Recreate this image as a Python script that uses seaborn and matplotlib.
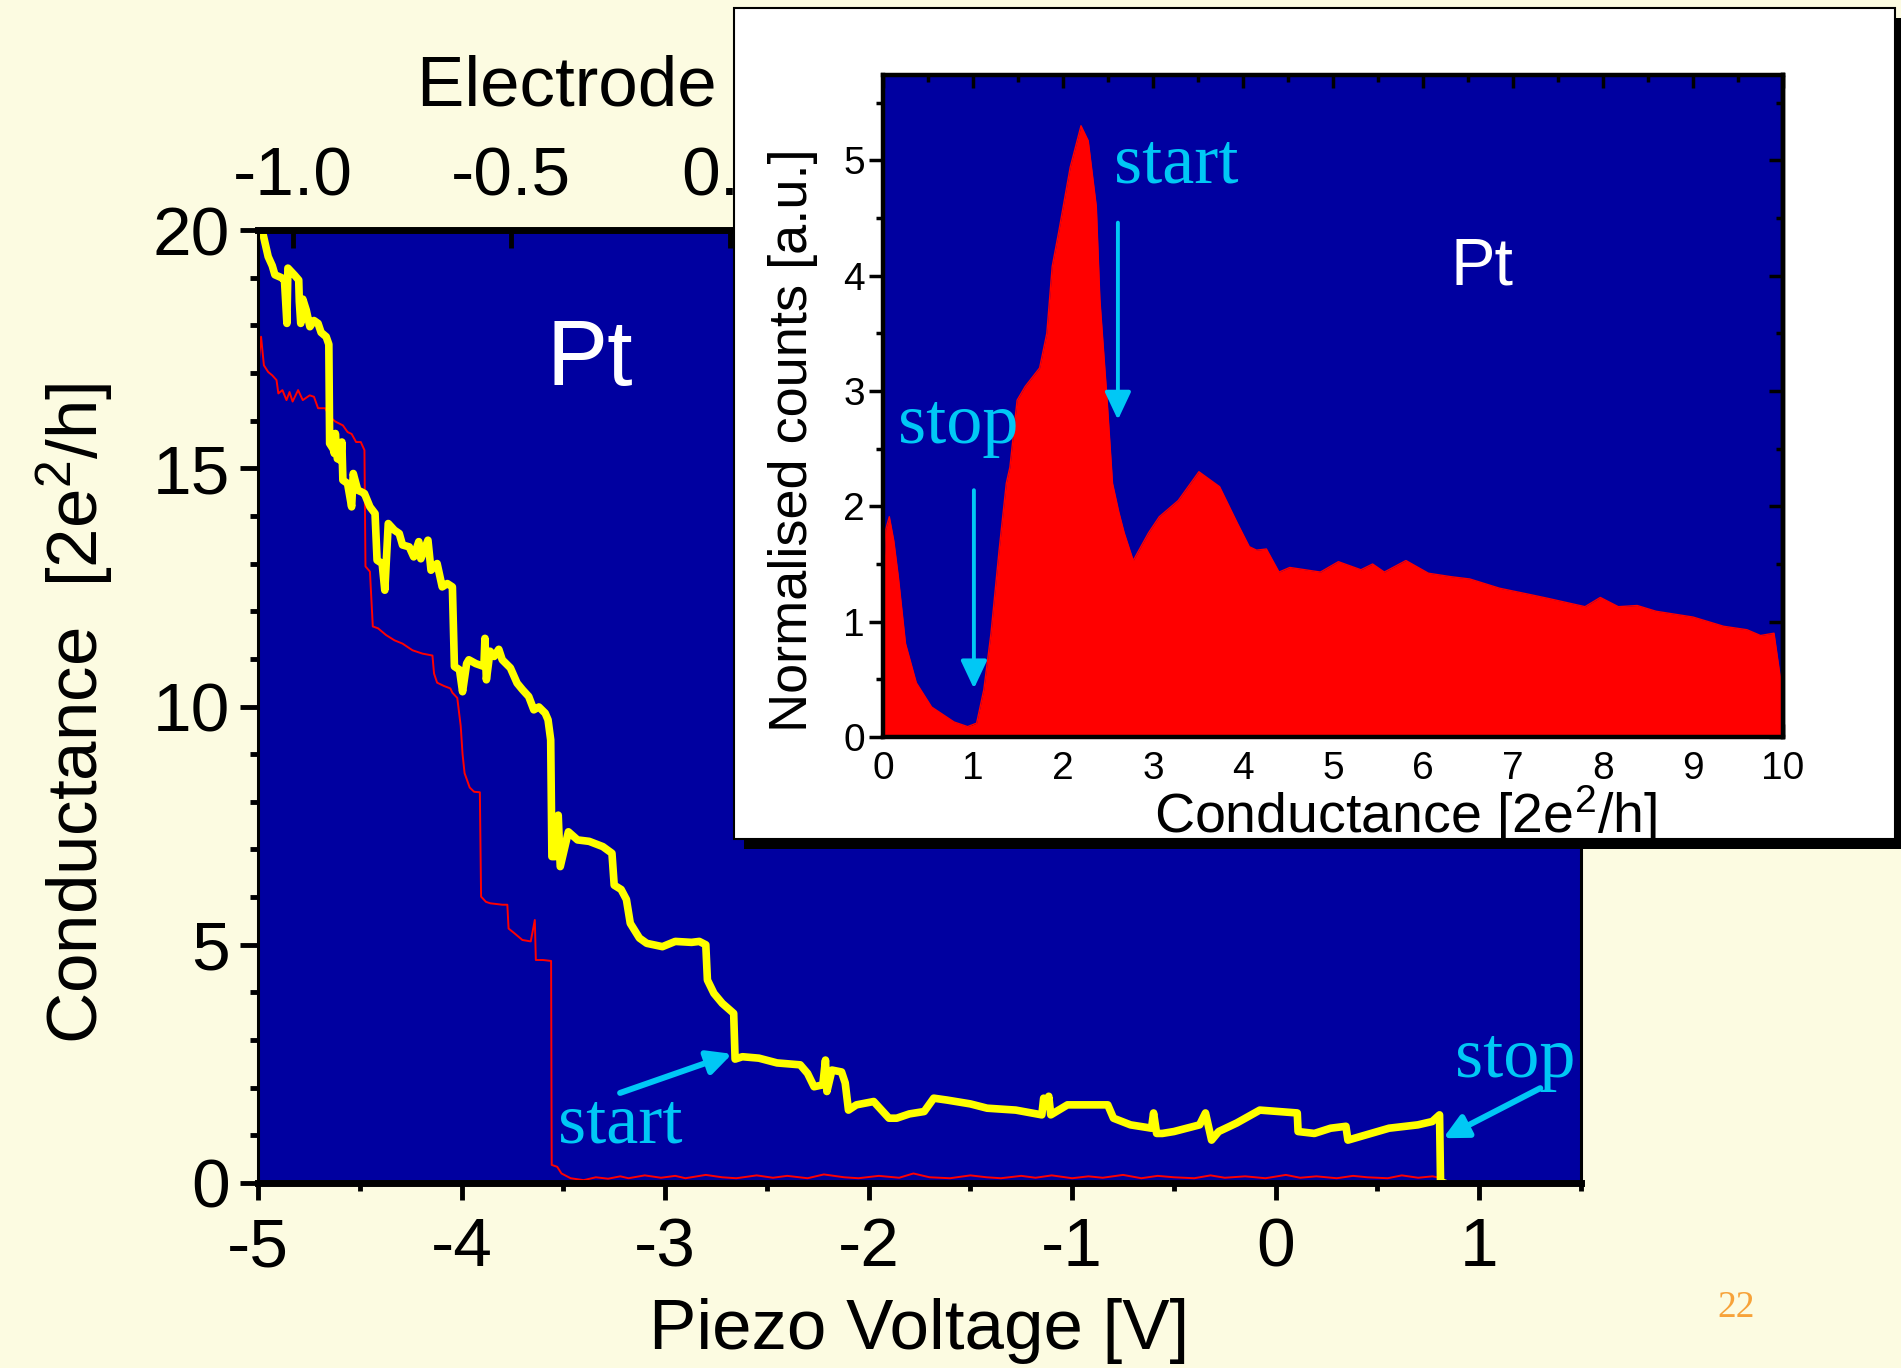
import matplotlib
matplotlib.use("Agg")
import matplotlib.pyplot as plt
from matplotlib.patches import Rectangle
from matplotlib.ticker import MultipleLocator, FormatStrFormatter
import seaborn as sns

sns.set_style("ticks")
plt.rcParams["font.family"] = ["Liberation Sans", "DejaVu Sans"]
plt.rcParams["mathtext.fontset"] = "custom"
plt.rcParams["mathtext.rm"] = "Liberation Sans"
plt.rcParams["mathtext.it"] = "Liberation Sans"
plt.rcParams["axes.unicode_minus"] = False
for key in ("text.color", "axes.labelcolor", "xtick.color", "ytick.color",
            "xtick.labelcolor", "ytick.labelcolor", "axes.edgecolor"):
    plt.rcParams[key] = "black"

BG = "#FCFBE1"
BLUE = "#0000A0"
YELLOW = "#FFFF00"
RED = "#FF0000"
CYAN = "#00C8F5"
ORANGE = "#F7A239"

# Breaking trace (thick, yellow): piezo voltage [V] vs conductance [2e^2/h]
yellow_v = [-4.98, -4.95, -4.93, -4.917, -4.885, -4.87, -4.858, -4.853, -4.82, -4.80,
            -4.797, -4.79, -4.78, -4.763, -4.745, -4.725, -4.705, -4.69, -4.665, -4.652,
            -4.648, -4.63, -4.625, -4.62, -4.61, -4.595, -4.588, -4.583, -4.56, -4.54,
            -4.532, -4.51, -4.49, -4.477, -4.45, -4.425, -4.415, -4.39, -4.377, -4.36,
            -4.33, -4.306, -4.29, -4.257, -4.235, -4.21, -4.20, -4.165, -4.15, -4.12,
            -4.095, -4.07, -4.045, -4.035, -4.01, -3.995, -3.975, -3.964, -3.93, -3.89,
            -3.885, -3.878, -3.86, -3.84, -3.817, -3.80, -3.76, -3.727, -3.70, -3.67,
            -3.645, -3.62, -3.589, -3.575, -3.562, -3.556, -3.54, -3.525, -3.515, -3.475,
            -3.43, -3.373, -3.306, -3.261, -3.25, -3.216, -3.19, -3.171, -3.126, -3.09,
            -3.013, -2.95, -2.87, -2.832, -2.80, -2.792, -2.76, -2.719, -2.663, -2.656,
            -2.62, -2.539, -2.45, -2.336, -2.30, -2.268, -2.225, -2.212, -2.205, -2.18,
            -2.133, -2.115, -2.099, -2.06, -1.975, -1.93, -1.90, -1.862, -1.80, -1.727,
            -1.68, -1.614, -1.50, -1.418, -1.277, -1.149, -1.14, -1.125, -1.115, -1.105,
            -1.023, -0.825, -0.797, -0.713, -0.61, -0.60, -0.585, -0.557, -0.50, -0.374,
            -0.345, -0.315, -0.28, -0.191, -0.078, 0.106, 0.11, 0.19, 0.27, 0.345,
            0.355, 0.444, 0.557, 0.698, 0.769, 0.805, 0.81, 0.83]
yellow_g = [20.0, 19.44, 19.25, 19.06, 19.0, 18.95, 18.04, 19.2, 19.05, 18.95,
            18.5, 18.04, 18.55, 18.32, 17.97, 18.1, 18.04, 17.85, 17.76, 17.6,
            15.52, 15.4, 15.31, 15.73, 15.2, 15.17, 15.55, 14.75, 14.68, 14.19,
            14.89, 14.54, 14.5, 14.47, 14.19, 14.05, 13.07, 13.0, 12.44, 13.84,
            13.7, 13.63, 13.39, 13.35, 13.14, 13.46, 13.1, 13.49, 12.86, 13.0,
            12.51, 12.58, 12.51, 10.84, 10.77, 10.31, 10.9, 10.98, 10.9, 10.84,
            11.43, 10.56, 11.16, 11.05, 11.2, 10.98, 10.81, 10.49, 10.35, 10.21,
            9.93, 9.99, 9.86, 9.72, 9.3, 6.85, 6.85, 7.72, 6.64, 7.37,
            7.2, 7.17, 7.06, 6.92, 6.25, 6.16, 5.95, 5.45, 5.14, 5.03,
            4.96, 5.07, 5.05, 5.07, 5.0, 4.26, 3.98, 3.77, 3.56, 2.6,
            2.65, 2.62, 2.52, 2.48, 2.3, 2.02, 2.06, 2.58, 1.92, 2.37,
            2.33, 2.1, 1.53, 1.64, 1.71, 1.5, 1.36, 1.36, 1.45, 1.5,
            1.78, 1.74, 1.66, 1.57, 1.53, 1.43, 1.78, 1.61, 1.82, 1.43,
            1.64, 1.64, 1.36, 1.22, 1.15, 1.47, 1.04, 1.04, 1.08, 1.22,
            1.47, 0.90, 1.08, 1.26, 1.53, 1.47, 1.08, 1.04, 1.15, 1.19,
            0.90, 1.01, 1.15, 1.22, 1.29, 1.43, 0.0, 0.0]

# Second trace (thin, red)
red_v = [-4.995, -4.985, -4.971, -4.95, -4.93, -4.909, -4.90, -4.88, -4.86, -4.845,
         -4.83, -4.803, -4.78, -4.746, -4.725, -4.705, -4.67, -4.648, -4.62, -4.583,
         -4.56, -4.54, -4.518, -4.495, -4.477, -4.472, -4.45, -4.436, -4.41, -4.371,
         -4.33, -4.29, -4.241, -4.192, -4.143, -4.135, -4.12, -4.086, -4.055, -4.045,
         -4.021, -4.004, -3.995, -3.985, -3.96, -3.938, -3.91, -3.904, -3.88, -3.859,
         -3.80, -3.775, -3.769, -3.74, -3.701, -3.66, -3.64, -3.635, -3.60, -3.56,
         -3.557, -3.53, -3.509, -3.464, -3.40, -3.34, -3.28, -3.22, -3.18, -3.10,
         -3.02, -2.95, -2.90, -2.80, -2.72, -2.65, -2.55, -2.47, -2.40, -2.30,
         -2.22, -2.12, -2.05, -1.95, -1.85, -1.78, -1.70, -1.60, -1.50, -1.42,
         -1.35, -1.25, -1.18, -1.10, -1.00, -0.92, -0.85, -0.75, -0.66, -0.58,
         -0.50, -0.40, -0.32, -0.25, -0.15, -0.05, 0.05, 0.12, 0.20, 0.30,
         0.38, 0.45, 0.55, 0.62, 0.70, 0.77, 0.82]
red_g = [17.3, 17.76, 17.16, 17.02, 16.95, 16.85, 16.57, 16.64, 16.43, 16.6,
         16.4, 16.64, 16.43, 16.53, 16.5, 16.26, 16.26, 16.08, 15.98, 15.9,
         15.76, 15.72, 15.55, 15.55, 15.38, 12.94, 12.83, 11.68, 11.64, 11.5,
         11.39, 11.32, 11.18, 11.11, 11.07, 10.69, 10.5, 10.43, 10.38, 10.29,
         10.18, 9.59, 9.0, 8.6, 8.3, 8.21, 8.2, 6.01, 5.9, 5.87,
         5.84, 5.84, 5.34, 5.24, 5.1, 5.07, 5.52, 4.68, 4.68, 4.66,
         0.38, 0.34, 0.2, 0.1, 0.06, 0.12, 0.09, 0.14, 0.1, 0.16,
         0.11, 0.15, 0.1, 0.17, 0.12, 0.1, 0.16, 0.11, 0.15, 0.1,
         0.18, 0.12, 0.1, 0.15, 0.11, 0.2, 0.12, 0.1, 0.16, 0.12,
         0.1, 0.15, 0.11, 0.16, 0.1, 0.14, 0.11, 0.17, 0.1, 0.15,
         0.12, 0.1, 0.16, 0.11, 0.14, 0.1, 0.17, 0.11, 0.14, 0.1,
         0.15, 0.12, 0.1, 0.16, 0.11, 0.14, 0.1]

# Conductance histogram for Pt
hist_g = [0.0, 0.03, 0.07, 0.12, 0.17, 0.25, 0.37, 0.54, 0.79, 0.94,
          1.04, 1.12, 1.20, 1.29, 1.37, 1.41, 1.49, 1.58, 1.74, 1.82,
          1.88, 1.95, 2.08, 2.20, 2.28, 2.37, 2.41, 2.49, 2.55, 2.62,
          2.68, 2.78, 2.95, 3.07, 3.28, 3.51, 3.74, 3.94, 4.07, 4.15,
          4.26, 4.40, 4.52, 4.86, 5.06, 5.31, 5.44, 5.57, 5.81, 6.06,
          6.31, 6.52, 6.85, 7.22, 7.40, 7.80, 7.97, 8.17, 8.38, 8.59,
          9.00, 9.34, 9.60, 9.75, 9.90, 9.98, 10.0]
hist_counts = [1.3, 1.8, 1.91, 1.7, 1.39, 0.81, 0.47, 0.26, 0.13, 0.09,
               0.12, 0.41, 0.90, 1.62, 2.2, 2.34, 2.92, 3.04, 3.2, 3.5,
               4.08, 4.37, 4.94, 5.30, 5.17, 4.6, 3.79, 2.92, 2.2, 1.95,
               1.77, 1.53, 1.77, 1.91, 2.05, 2.30, 2.17, 1.85, 1.65, 1.62,
               1.63, 1.43, 1.47, 1.43, 1.52, 1.45, 1.5, 1.43, 1.53, 1.42,
               1.39, 1.37, 1.29, 1.23, 1.20, 1.13, 1.21, 1.13, 1.14, 1.09,
               1.04, 0.96, 0.93, 0.88, 0.9, 0.46, 0.0]

main_xticks = [-5, -4, -3, -2, -1, 0, 1]
main_yticks = [0, 5, 10, 15, 20]
top_ticks = [-1.0, -0.5, 0.0]

W, H = 1901, 1368
fig = plt.figure(figsize=(W / 100, H / 100), dpi=100, facecolor=BG)


def frac(left, top, right, bottom):
    return [left / W, 1 - bottom / H, (right - left) / W, (bottom - top) / H]


# ---- main panel: conductance traces ----
ax = fig.add_axes(frac(258, 230, 1581, 1183))
ax.set_facecolor(BLUE)
sns.lineplot(x=red_v, y=red_g, ax=ax, color=RED, lw=1.4, sort=False, estimator=None)
sns.lineplot(x=yellow_v, y=yellow_g, ax=ax, color=YELLOW, lw=5.5, sort=False, estimator=None)
ax.set_xlim(-5, 1.5)
ax.set_ylim(0, 20)
ax.set_xticks(main_xticks)
ax.set_yticks(main_yticks)
ax.xaxis.set_minor_locator(MultipleLocator(0.5))
ax.yaxis.set_minor_locator(MultipleLocator(1))
ax.tick_params(which="both", direction="out", top=False, right=False,
               colors="black", labelcolor="black")
ax.tick_params(axis="x", which="major", length=12, width=3.5, labelsize=50, pad=12)
ax.tick_params(axis="x", which="minor", length=6, width=3.5)
ax.tick_params(axis="y", which="major", length=13, width=3.5, labelsize=50, pad=7)
ax.tick_params(axis="y", which="minor", length=6, width=3.5)
for side, lw in (("top", 5), ("bottom", 5), ("left", 2.2), ("right", 2.2)):
    ax.spines[side].set_color("black")
    ax.spines[side].set_linewidth(lw)
ax.set_xlabel("Piezo Voltage [V]", fontsize=51, color="black")
ax.xaxis.set_label_coords(0.5, -0.121)
ax.set_ylabel(r"Conductance  [2e$^2$/h]", fontsize=51, color="black")
ax.yaxis.set_label_coords(-0.108, 0.493)

ax.text(-3.585, 16.75, "Pt", color="white", fontsize=66, va="baseline")
ax.text(-3.526, 0.84, "start", color=CYAN, fontsize=52, family="Liberation Serif", va="baseline")
ax.text(0.882, 2.22, "stop", color=CYAN, fontsize=52, family="Liberation Serif", va="baseline")
arrow_main = dict(arrowstyle="-|>,head_width=0.36,head_length=0.72", mutation_scale=20,
                  lw=4.3, color=CYAN, shrinkA=0, shrinkB=0)
ax.annotate("", xy=(-2.671, 2.71), xytext=(-3.221, 1.89), arrowprops=arrow_main)
ax.annotate("", xy=(0.823, 0.94), xytext=(1.30, 1.99), arrowprops=arrow_main)

# top axis: electrode displacement
tw = ax.twiny()
tw.set_xlim(-1.08, 1.95)
tw.set_xticks(top_ticks)
tw.xaxis.set_major_formatter(FormatStrFormatter("%.1f"))
tw.tick_params(axis="x", direction="in", length=13, width=3.5, labelsize=50, pad=15,
               colors="black", labelcolor="black")
for sp in tw.spines.values():
    sp.set_visible(False)
tw.set_xlabel("Electrode displacement [nm]", fontsize=51, color="black")
tw.xaxis.set_label_coords(0.458, 1.130)

# ---- inset panel with drop shadow ----
fig.add_artist(Rectangle((744 / W, 1 - 849 / H), (1910 - 744) / W, (849 - 18) / H,
                         transform=fig.transFigure, facecolor="black", edgecolor="none", zorder=1))
fig.add_artist(Rectangle((734 / W, 1 - 839 / H), (1895 - 734) / W, (839 - 8) / H,
                         transform=fig.transFigure, facecolor="white", edgecolor="black",
                         lw=1.5, zorder=1.1))

axi = fig.add_axes(frac(883, 75, 1783, 737), zorder=2)
axi.set_facecolor(BLUE)
axi.fill_between(hist_g, hist_counts, color=RED, lw=0)
sns.lineplot(x=hist_g, y=hist_counts, ax=axi, color=RED, lw=1, sort=False, estimator=None)
axi.set_xlim(0, 10)
axi.set_ylim(0, 5.74)
axi.xaxis.set_major_locator(MultipleLocator(1))
axi.xaxis.set_minor_locator(MultipleLocator(0.5))
axi.yaxis.set_major_locator(MultipleLocator(1))
axi.yaxis.set_minor_locator(MultipleLocator(0.5))
axi.tick_params(axis="x", which="both", direction="in", top=True, bottom=True, width=2.5,
                colors="black", labelcolor="black")
axi.tick_params(axis="x", which="major", length=9.5, labelsize=28, pad=10)
axi.tick_params(axis="x", which="minor", length=5)
axi.tick_params(axis="y", which="both", direction="out", left=True, right=False, width=2.5,
                colors="black", labelcolor="black")
axi.tick_params(axis="y", which="major", length=10, labelsize=28, pad=3)
axi.tick_params(axis="y", which="minor", length=5)
for sp in axi.spines.values():
    sp.set_color("black")
    sp.set_linewidth(3.2)
sec = axi.secondary_yaxis("right")
sec.yaxis.set_major_locator(MultipleLocator(1))
sec.yaxis.set_minor_locator(MultipleLocator(0.5))
sec.tick_params(which="both", direction="in", width=2.5, labelright=False, colors="black")
sec.tick_params(which="major", length=10)
sec.tick_params(which="minor", length=5)
sec.spines["right"].set_linewidth(3.2)
sec.spines["right"].set_color("black")

axi.set_xlabel(r"Conductance [2e$^2$/h]", fontsize=40, color="black")
axi.xaxis.set_label_coords(0.581, -0.07)
axi.set_ylabel("Normalised counts [a.u.]", fontsize=39, color="black")
axi.yaxis.set_label_coords(-0.072, 0.449)

axi.text(6.31, 3.92, "Pt", color="white", fontsize=48, va="baseline")
axi.text(2.57, 4.81, "start", color=CYAN, fontsize=52, family="Liberation Serif", va="baseline")
axi.text(0.17, 2.55, "stop", color=CYAN, fontsize=52, family="Liberation Serif", va="baseline")
arrow_in = dict(arrowstyle="-|>,head_width=0.4,head_length=0.85", mutation_scale=20,
                lw=2.8, color=CYAN, shrinkA=0, shrinkB=0)
axi.annotate("", xy=(2.61, 2.75), xytext=(2.61, 4.46), arrowprops=arrow_in)
axi.annotate("", xy=(1.01, 0.42), xytext=(1.01, 2.14), arrowprops=arrow_in)

fig.text(1717 / W, 1 - 1317 / H, "22", color=ORANGE, fontsize=27,
         family="Liberation Serif", va="baseline")

fig.savefig("out.png", dpi=100, facecolor=BG)
